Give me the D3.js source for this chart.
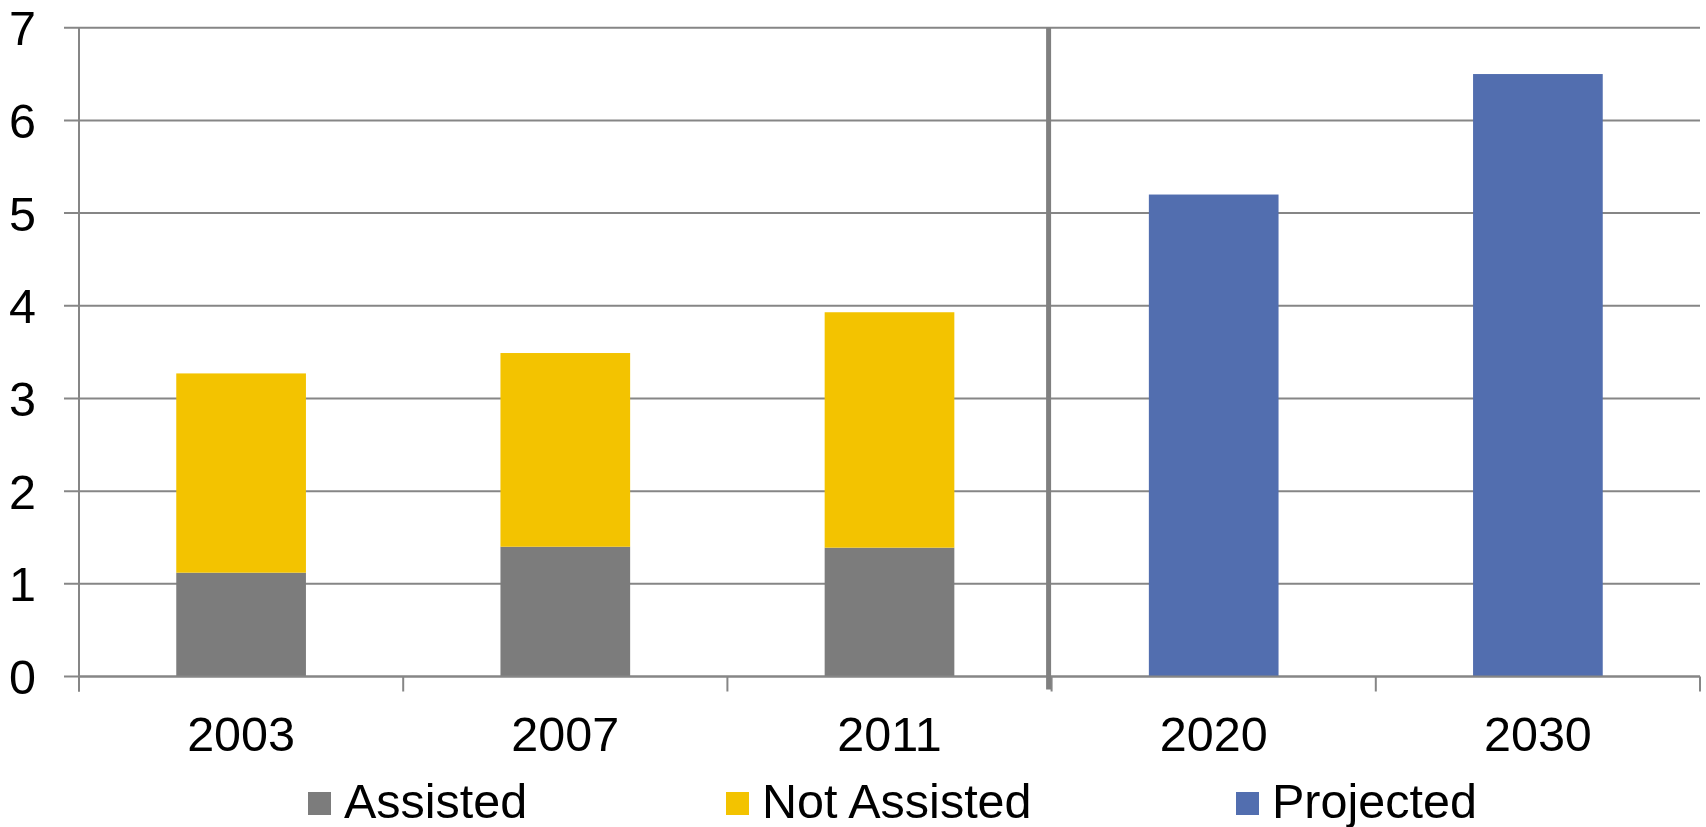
<!DOCTYPE html>
<html>
<head>
<meta charset="utf-8">
<script src="https://cdn.jsdelivr.net/npm/d3@7"></script>
<style>
  html, body { margin: 0; padding: 0; background: #fff; }
  svg { display: block; }
  text { font-family: "Liberation Sans", Arial, sans-serif; fill: #000; }
</style>
</head>
<body>
<svg id="chart" width="1706" height="827"></svg>
<script>
// ---- data ----
const categories = ["2003", "2007", "2011", "2020", "2030"];
const assisted    = [1.12, 1.40, 1.39, 0, 0];
const notAssisted = [2.15, 2.09, 2.54, 0, 0];
const projected   = [0, 0, 0, 5.20, 6.50];
const yTicks = [0, 1, 2, 3, 4, 5, 6, 7];
const seriesNames = ["Assisted", "Not Assisted", "Projected"];
const seriesColors = ["#7c7c7c", "#f3c300", "#526eaf"];

// ---- layout ----
const W = 1706, H = 827;
const plot = { left: 79, right: 1700, top: 27.7, bottom: 676.5 };
const fontSize = 48.5;

const svg = d3.select("#chart");

const x = d3.scaleBand()
  .domain(categories)
  .range([plot.left, plot.right])
  .paddingInner(0.6)
  .paddingOuter(0.3);

const y = d3.scaleLinear()
  .domain([0, 7])
  .range([plot.bottom, plot.top]);

// gridlines
svg.append("g")
  .selectAll("line")
  .data(yTicks)
  .join("line")
  .attr("x1", plot.left - 15)
  .attr("x2", plot.right)
  .attr("y1", d => y(d))
  .attr("y2", d => y(d))
  .attr("stroke", "#868686")
  .attr("stroke-width", 2);

// y axis line
svg.append("line")
  .attr("x1", plot.left).attr("x2", plot.left)
  .attr("y1", y(7)).attr("y2", plot.bottom + 15)
  .attr("stroke", "#868686").attr("stroke-width", 2);

// y labels
svg.append("g")
  .selectAll("text")
  .data(yTicks)
  .join("text")
  .attr("x", 36)
  .attr("y", d => y(d))
  .attr("dy", "0.36em")
  .attr("text-anchor", "end")
  .attr("font-size", fontSize)
  .text(d => d);

// bars
const stackData = categories.map((c, i) => ({
  cat: c,
  vals: [assisted[i], notAssisted[i], projected[i]]
}));

const barG = svg.append("g");
stackData.forEach(d => {
  let base = 0;
  d.vals.forEach((v, si) => {
    if (v > 0) {
      barG.append("rect")
        .attr("x", x(d.cat))
        .attr("width", x.bandwidth())
        .attr("y", y(base + v))
        .attr("height", y(base) - y(base + v))
        .attr("fill", seriesColors[si]);
      base += v;
    }
  });
});

// x axis line
svg.append("line")
  .attr("x1", plot.left).attr("x2", plot.right)
  .attr("y1", plot.bottom).attr("y2", plot.bottom)
  .attr("stroke", "#868686").attr("stroke-width", 2);

// x tick marks at category boundaries
const step = x.step();
const boundaries = categories.map(c => x(c) - step * x.paddingInner() / 2)
  .concat([x(categories[categories.length - 1]) + x.bandwidth() + step * x.paddingInner() / 2]);
svg.append("g")
  .selectAll("line")
  .data(boundaries)
  .join("line")
  .attr("x1", d => d).attr("x2", d => d)
  .attr("y1", plot.bottom).attr("y2", plot.bottom + 15)
  .attr("stroke", "#868686").attr("stroke-width", 2);

// divider between actual and projected
const divX = boundaries[3] - 3;
svg.append("line")
  .attr("x1", divX).attr("x2", divX)
  .attr("y1", y(7)).attr("y2", plot.bottom + 13)
  .attr("stroke", "#808080").attr("stroke-width", 5);

// x labels
svg.append("g")
  .selectAll("text")
  .data(categories)
  .join("text")
  .attr("x", d => x(d) + x.bandwidth() / 2)
  .attr("y", 751)
  .attr("text-anchor", "middle")
  .attr("font-size", fontSize)
  .text(d => d);

// legend
const legendX = [308, 726, 1236];
const leg = svg.append("g");
seriesNames.forEach((name, i) => {
  leg.append("rect")
    .attr("x", legendX[i]).attr("y", 792)
    .attr("width", 23).attr("height", 23)
    .attr("fill", seriesColors[i]);
  leg.append("text")
    .attr("x", legendX[i] + 36).attr("y", 818)
    .attr("font-size", fontSize)
    .text(name);
});
</script>
</body>
</html>
